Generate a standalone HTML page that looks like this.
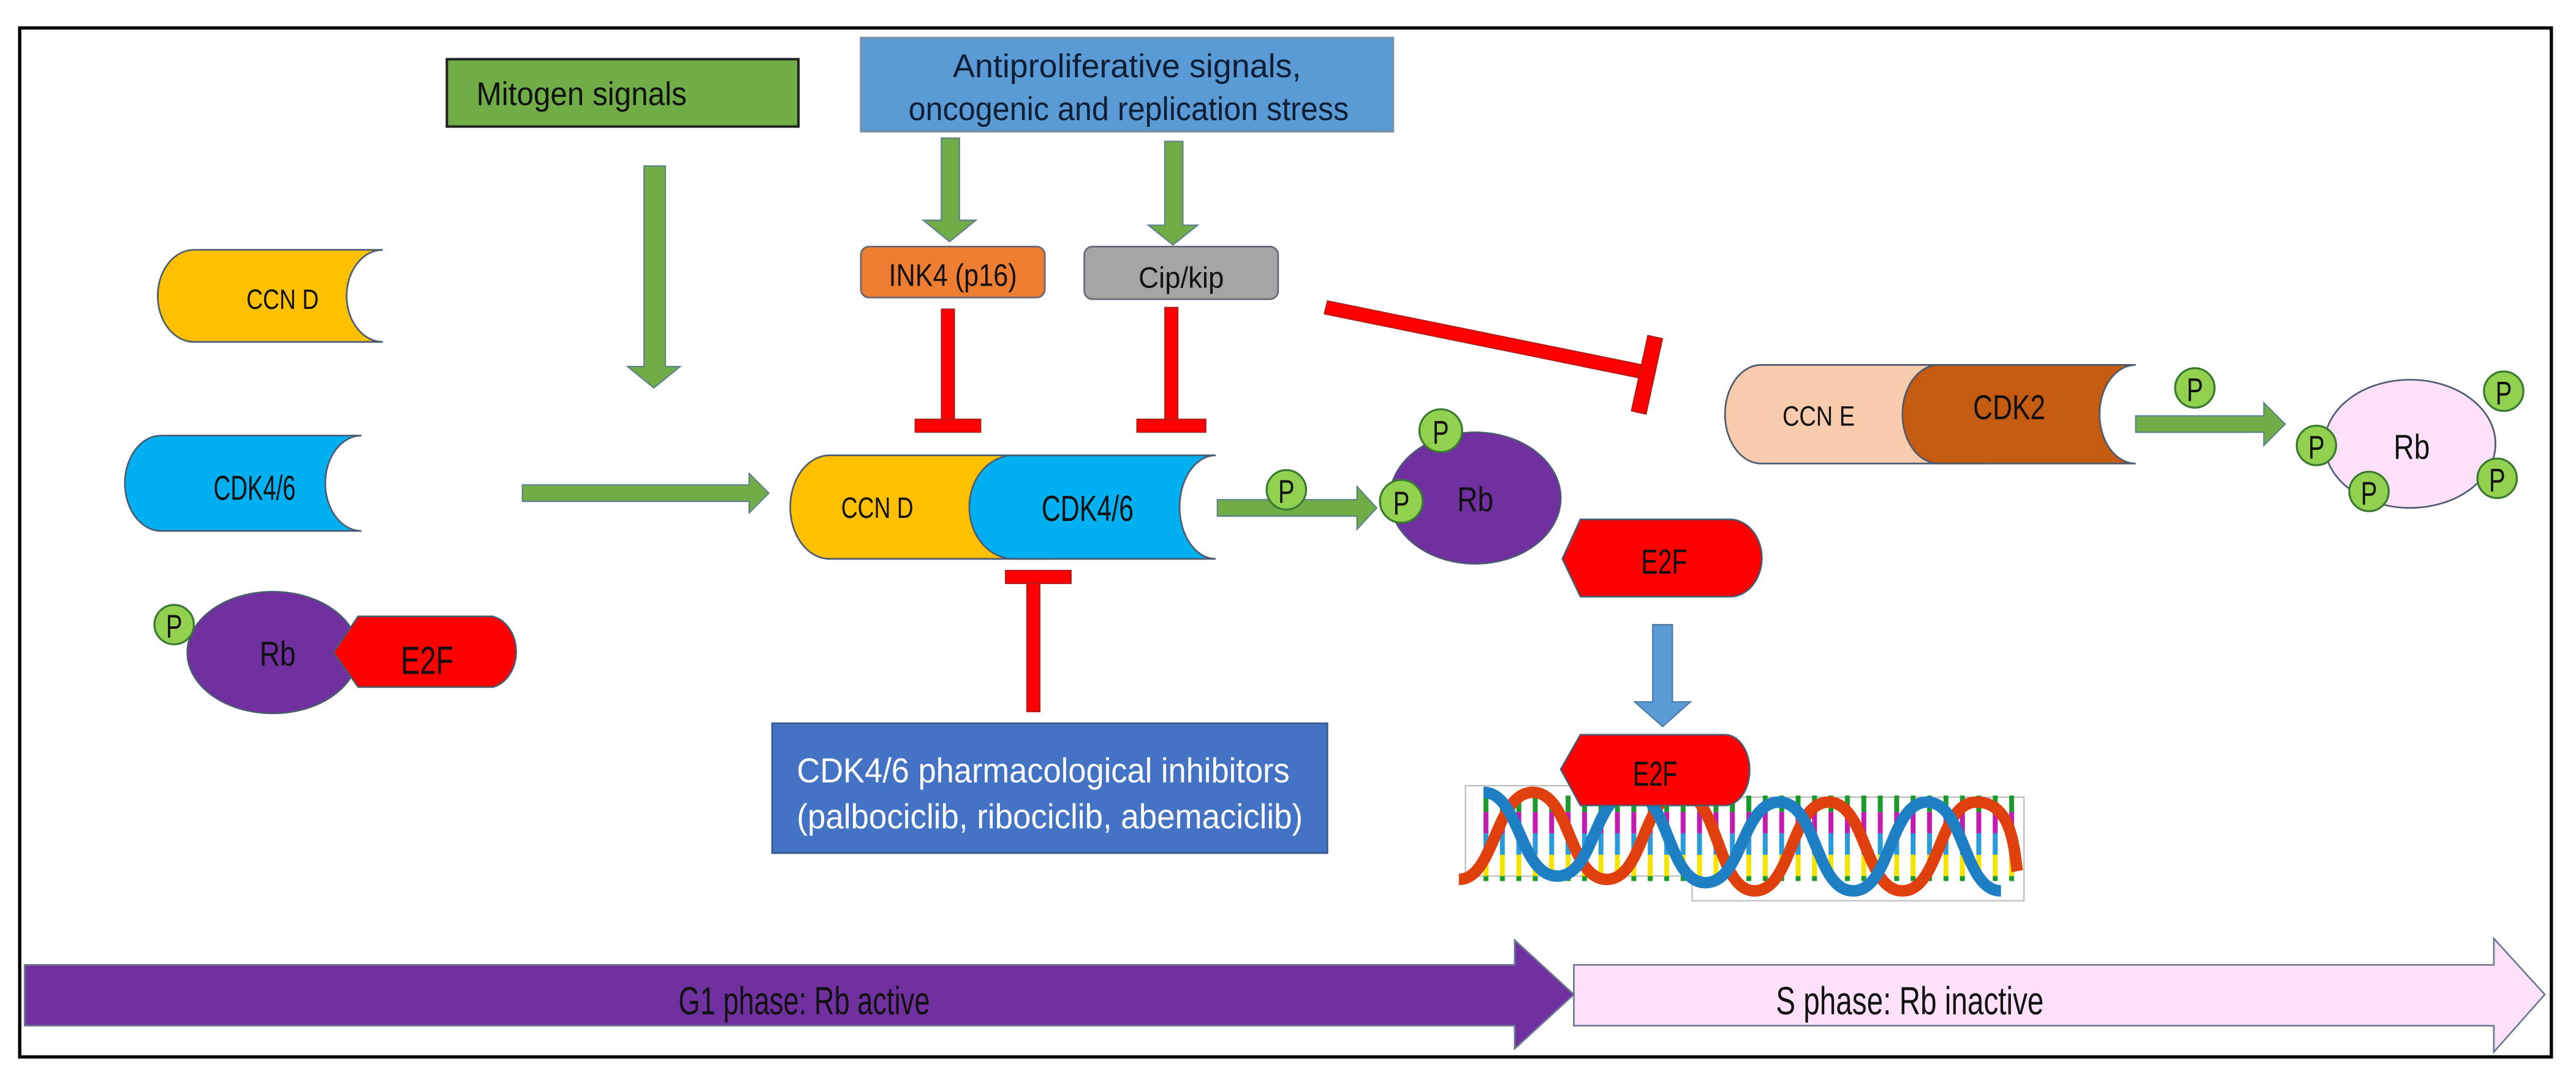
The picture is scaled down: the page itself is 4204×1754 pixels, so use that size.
<!DOCTYPE html>
<html><head><meta charset="utf-8"><style>html,body{margin:0;padding:0;background:#fff}svg{display:block}</style></head>
<body>
<svg width="4204" height="1754" viewBox="0 0 1568 654" preserveAspectRatio="none" xmlns="http://www.w3.org/2000/svg" font-family="Liberation Sans, sans-serif">
<defs>
<pattern id="rungs" x="0" y="0" width="10" height="52" patternUnits="userSpaceOnUse">
<rect x="3" y="0" width="3" height="13" fill="#f5e400"/>
<rect x="3" y="13" width="3" height="13" fill="#1a9a2a"/>
<rect x="3" y="26" width="3" height="13" fill="#c21bb0"/>
<rect x="3" y="39" width="3" height="13" fill="#2a9ad8"/>
</pattern>
</defs>
<rect x="12" y="17" width="1541" height="626" fill="#fff" stroke="#000" stroke-width="2"/>

<rect x="272" y="36" width="214" height="41" fill="#70ad47" stroke="#222" stroke-width="1.5"/>
<text x="290" y="64" font-size="20" fill="#111" textLength="128" lengthAdjust="spacingAndGlyphs">Mitogen signals</text>
<rect x="524" y="23" width="324" height="57" fill="#5b9bd5" stroke="#7a8ea8" stroke-width="1.2"/>
<text x="580" y="47" font-size="20" fill="#0e1e35" textLength="212" lengthAdjust="spacingAndGlyphs">Antiproliferative signals,</text>
<text x="553" y="73" font-size="20" fill="#0e1e35" textLength="268" lengthAdjust="spacingAndGlyphs">oncogenic and replication stress</text>

<g fill="#70ad47" stroke="#5d7f8f" stroke-width="0.8">
<polygon points="392,101 405,101 405,223 414,223 398,236 382,223 392,223"/>
<polygon points="573,84 584,84 584,134 594,134 578,147 562,134 573,134"/>
<polygon points="709,86 720,86 720,137 729,137 714,149 699,137 709,137"/>
<polygon points="318,295 456,295 456,288 468,300 456,312 456,305 318,305"/>
<polygon points="741,304 826,304 826,296 838,309 826,322 826,314 741,314"/>
<polygon points="1300,253 1378,253 1378,245 1391,258 1378,271 1378,263 1300,263"/>
</g>
<polygon points="1006,380 1018,380 1018,427 1029,427 1012,442 995,427 1006,427" fill="#5b9bd5" stroke="#4a7aa8" stroke-width="0.8"/>

<rect x="524" y="150" width="112" height="31" rx="5" fill="#ed7d31" stroke="#667" stroke-width="1"/>
<text x="580" y="174" font-size="19" fill="#111" text-anchor="middle" textLength="78" lengthAdjust="spacingAndGlyphs">INK4 (p16)</text>
<rect x="660" y="150" width="118" height="32" rx="5" fill="#a5a5a5" stroke="#667" stroke-width="1"/>
<text x="719" y="175" font-size="18" fill="#111" text-anchor="middle" textLength="52" lengthAdjust="spacingAndGlyphs">Cip/kip</text>

<g fill="#ff0000" stroke="#a02020" stroke-width="0.6">
<rect x="573" y="188" width="8" height="68"/>
<rect x="557" y="255" width="40" height="8"/>
<rect x="709" y="187" width="8" height="69"/>
<rect x="692" y="255" width="42" height="8"/>
<rect x="612" y="347" width="40" height="8"/>
<rect x="625" y="355" width="8" height="78"/>
<polygon points="808,183 1000,222 998,230 806,191"/>
<polygon points="1003,204 1012,206 1002,252 993,250"/>
</g>

<rect x="470" y="440" width="338" height="79" fill="#4472c4" stroke="#3a5a90" stroke-width="1"/>
<text x="485" y="476" font-size="21" fill="#fff" textLength="300" lengthAdjust="spacingAndGlyphs">CDK4/6  pharmacological inhibitors</text>
<text x="485" y="504" font-size="21" fill="#fff" textLength="308" lengthAdjust="spacingAndGlyphs">(palbociclib, ribociclib, abemaciclib)</text>

<path d="M118,152 L233,152 A22 28 0 0 0 233,208 L118,208 A22 28 0 0 1 118,152 Z" fill="#ffc000" stroke="#4a5a70" stroke-width="1"/>
<text x="150" y="188" font-size="17" fill="#111" textLength="44" lengthAdjust="spacingAndGlyphs">CCN D</text>
<path d="M98,265 L220,265 A22 29 0 0 0 220,323 L98,323 A22 29 0 0 1 98,265 Z" fill="#00b0f0" stroke="#4a5a70" stroke-width="1"/>
<text x="130" y="304" font-size="21" fill="#111" textLength="50" lengthAdjust="spacingAndGlyphs">CDK4/6</text>

<ellipse cx="166" cy="397" rx="52" ry="37" fill="#7030a0" stroke="#4a5a70" stroke-width="1"/>
<path d="M203,397 L218,375 L300,375 A18 22 0 0 1 300,418 L218,418 Z" fill="#ff0000" stroke="#4a5a70" stroke-width="1"/>
<text x="158" y="405" font-size="21" fill="#111" textLength="22" lengthAdjust="spacingAndGlyphs">Rb</text>
<text x="244" y="410" font-size="24" fill="#111" textLength="32" lengthAdjust="spacingAndGlyphs">E2F</text>
<circle cx="106" cy="380" r="12" fill="#92d050" stroke="#3a7a30" stroke-width="1.2"/>
<text x="106" y="388" font-size="20" fill="#111" text-anchor="middle" textLength="10" lengthAdjust="spacingAndGlyphs">P</text>

<path d="M505,277 L640,277 L640,340 L505,340 A24 31.5 0 0 1 505,277 Z" fill="#ffc000" stroke="#4a5a70" stroke-width="1"/>
<path d="M617,277 L740,277 A22 31.5 0 0 0 740,340 L617,340 A27 31.5 0 0 1 617,277 Z" fill="#00b0f0" stroke="#4a5a70" stroke-width="1"/>
<text x="512" y="315" font-size="18" fill="#111" textLength="44" lengthAdjust="spacingAndGlyphs">CCN D</text>
<text x="634" y="317" font-size="22" fill="#111" textLength="56" lengthAdjust="spacingAndGlyphs">CDK4/6</text>

<circle cx="783" cy="298" r="12" fill="#92d050" stroke="#3a7a30" stroke-width="1.2"/>
<text x="783" y="306" font-size="20" fill="#111" text-anchor="middle" textLength="10" lengthAdjust="spacingAndGlyphs">P</text>

<ellipse cx="898" cy="303" rx="52" ry="40" fill="#7030a0" stroke="#4a5a70" stroke-width="1"/>
<text x="887" y="311" font-size="21" fill="#111" textLength="22" lengthAdjust="spacingAndGlyphs">Rb</text>
<circle cx="877" cy="262" r="13" fill="#92d050" stroke="#3a7a30" stroke-width="1.2"/>
<text x="877" y="270" font-size="20" fill="#111" text-anchor="middle" textLength="10" lengthAdjust="spacingAndGlyphs">P</text>
<circle cx="853" cy="305" r="13" fill="#92d050" stroke="#3a7a30" stroke-width="1.2"/>
<text x="853" y="313" font-size="20" fill="#111" text-anchor="middle" textLength="10" lengthAdjust="spacingAndGlyphs">P</text>
<path d="M951,340 L962,316 L1053,316 A19 23 0 0 1 1053,363 L962,363 Z" fill="#ff0000" stroke="#4a5a70" stroke-width="1"/>
<text x="999" y="349" font-size="21" fill="#111" textLength="28" lengthAdjust="spacingAndGlyphs">E2F</text>

<path d="M892,478 L1030,478 L1030,485 L1232,485 L1232,548 L1030,548 L1030,533 L892,533 Z" fill="#fff" stroke="#bbb" stroke-width="0.8"/>
<rect x="896" y="484" width="330" height="52" fill="url(#rungs)"/>
<path d="M888,535 C910,535 910,482 933,482 S955,535 978,535 S1000,482 1023,482 S1045,542 1068,542 S1090,488 1113,488 S1135,542 1158,542 S1180,488 1203,488 S1226,520 1228,530" fill="none" stroke="#e0400e" stroke-width="7"/>
<path d="M903,482 C925,482 925,533 948,533 S970,482 993,482 S1015,537 1038,537 S1060,488 1083,488 S1105,542 1128,542 S1150,488 1173,488 S1195,542 1218,542" fill="none" stroke="#1f7fc4" stroke-width="7"/>
<path d="M950,468 L962,447 L1050,447 A15 21.5 0 0 1 1050,490 L962,490 Z" fill="#ff0000" stroke="#4a5a70" stroke-width="1"/>
<text x="994" y="478" font-size="21" fill="#111" textLength="27" lengthAdjust="spacingAndGlyphs">E2F</text>

<path d="M1072,222 L1210,222 L1210,282 L1072,282 A22 30 0 0 1 1072,222 Z" fill="#f8cbad" stroke="#4a5a70" stroke-width="1"/>
<path d="M1180,222 L1300,222 A22 30 0 0 0 1300,282 L1180,282 A22 30 0 0 1 1180,222 Z" fill="#c55a11" stroke="#4a5a70" stroke-width="1"/>
<text x="1085" y="259" font-size="17" fill="#111" textLength="44" lengthAdjust="spacingAndGlyphs">CCN E</text>
<text x="1201" y="255" font-size="21" fill="#111" textLength="44" lengthAdjust="spacingAndGlyphs">CDK2</text>
<circle cx="1336" cy="236" r="12" fill="#92d050" stroke="#3a7a30" stroke-width="1.2"/>
<text x="1336" y="244" font-size="20" fill="#111" text-anchor="middle" textLength="10" lengthAdjust="spacingAndGlyphs">P</text>

<ellipse cx="1467" cy="270" rx="52" ry="39" fill="#fde0fa" stroke="#4a5a70" stroke-width="1"/>
<text x="1457" y="279" font-size="21" fill="#111" textLength="22" lengthAdjust="spacingAndGlyphs">Rb</text>
<g fill="#92d050" stroke="#3a7a30" stroke-width="1.2">
<circle cx="1524" cy="238" r="12"/><circle cx="1410" cy="271" r="12"/><circle cx="1442" cy="299" r="12"/><circle cx="1520" cy="291" r="12"/>
</g>
<g font-size="20" fill="#111" text-anchor="middle">
<text x="1524" y="246" textLength="10" lengthAdjust="spacingAndGlyphs">P</text><text x="1410" y="279" textLength="10" lengthAdjust="spacingAndGlyphs">P</text><text x="1442" y="307" textLength="10" lengthAdjust="spacingAndGlyphs">P</text><text x="1520" y="299" textLength="10" lengthAdjust="spacingAndGlyphs">P</text>
</g>

<polygon points="958,587 1518,587 1518,571 1549,605 1518,640 1518,624 958,624" fill="#fde0fa" stroke="#6a7a90" stroke-width="1"/>
<polygon points="15,587 922,587 922,572 958,605 922,638 922,624 15,624" fill="#7030a0" stroke="#6a7a90" stroke-width="1"/>
<text x="413" y="617" font-size="24" fill="#111" textLength="153" lengthAdjust="spacingAndGlyphs">G1 phase: Rb active</text>
<text x="1081" y="617" font-size="24" fill="#111" textLength="163" lengthAdjust="spacingAndGlyphs">S  phase: Rb inactive</text>
</svg>
</body></html>
